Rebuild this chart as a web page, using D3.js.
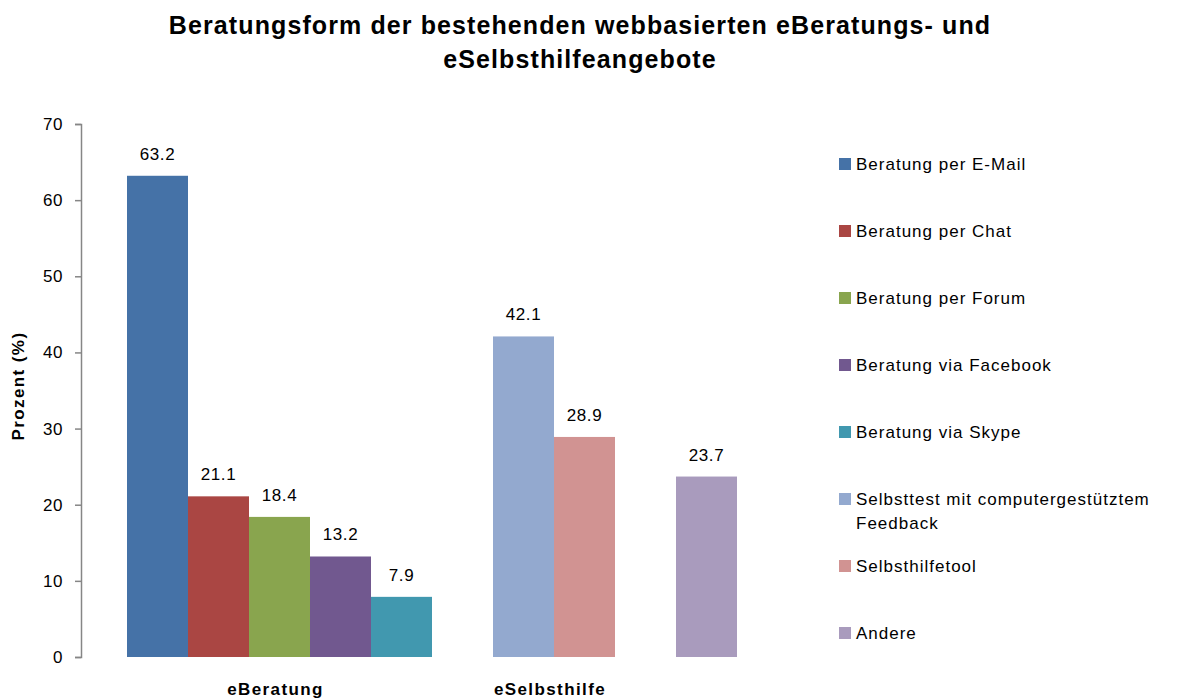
<!DOCTYPE html>
<html>
<head>
<meta charset="utf-8">
<script src="https://cdn.jsdelivr.net/npm/d3@7/dist/d3.min.js"></script>
<style>
  body { margin: 0; background: #fff; }
  text { font-family: "Liberation Sans", Arial, Helvetica, sans-serif; }
</style>
</head>
<body>
<div id="chart"></div>
<script>
////////////////////////////////////////////////
// data

var categories = ["eBeratung", "eSelbsthilfe", ""];

var seriesNames = [
    "Beratung per E-Mail",
    "Beratung per Chat",
    "Beratung per Forum",
    "Beratung via Facebook",
    "Beratung via Skype",
    "Selbsttest mit computergestütztem Feedback",
    "Selbsthilfetool",
    "Andere"
];

var seriesValues = [63.2, 21.1, 18.4, 13.2, 7.9, 42.1, 28.9, 23.7];

// which category each series sits in
var seriesCategory = [0, 0, 0, 0, 0, 1, 1, 2];

var seriesColors = ["#4572A7", "#AA4643", "#89A54E", "#71588F",
                    "#4198AF", "#93A9CF", "#D19392", "#A99BBD"];

var yTicks = [0, 10, 20, 30, 40, 50, 60, 70];

////////////////////////////////////////////////
// setup

var w = 1179, h = 698;

var svg = d3.select("#chart")
    .append("svg")
    .attr("width", w)
    .attr("height", h);

// one slot per bar, plus a spacer slot after each category
var slots = [];
categories.forEach(function(c, ci){
    seriesNames.forEach(function(s, si){
        if (seriesCategory[si] === ci) slots.push("s" + si);
    });
    if (ci < categories.length - 1) slots.push("gap" + ci);
});

var x = d3.scaleBand()
    .domain(slots)
    .range([127, 737])
    .padding(0);

var y = d3.scaleLinear()
    .domain([0, 70])
    .range([657, 124]);

////////////////////////////////////////////////
// title

svg.append("text")
    .attr("x", 580).attr("y", 34)
    .attr("text-anchor", "middle")
    .attr("font-size", "25px")
    .attr("font-weight", "bold")
    .attr("letter-spacing", "1.1px")
    .attr("fill", "#000")
    .text("Beratungsform der bestehenden webbasierten eBeratungs- und");

svg.append("text")
    .attr("x", 580).attr("y", 68)
    .attr("text-anchor", "middle")
    .attr("font-size", "25px")
    .attr("font-weight", "bold")
    .attr("letter-spacing", "1.1px")
    .attr("fill", "#000")
    .text("eSelbsthilfeangebote");

////////////////////////////////////////////////
// y axis

var yAxis = svg.append("g")
    .attr("transform", "translate(81,0)")
    .call(d3.axisLeft(y).tickValues(yTicks).tickSize(6).tickPadding(12).tickFormat(d3.format("d")));

yAxis.select(".domain").attr("stroke", "#868686").attr("stroke-width", 1.5);
yAxis.selectAll(".tick line").attr("stroke", "#868686").attr("stroke-width", 1.5);
yAxis.selectAll(".tick text")
    .attr("font-size", "17px")
    .attr("letter-spacing", "0.6px")
    .attr("fill", "#000")
    .attr("font-family", "Liberation Sans, Arial, sans-serif");

svg.append("text")
    .attr("transform", "translate(24,386) rotate(-90)")
    .attr("text-anchor", "middle")
    .attr("font-size", "17px")
    .attr("font-weight", "bold")
    .attr("letter-spacing", "1.4px")
    .attr("fill", "#000")
    .text("Prozent (%)");

////////////////////////////////////////////////
// bars

var barData = seriesNames.map(function(s, i){
    return { name: s, value: seriesValues[i], color: seriesColors[i], key: "s" + i };
});

svg.selectAll("rect.bar")
    .data(barData)
    .enter()
    .append("rect")
    .attr("class", "bar")
    .attr("x", function(d){ return x(d.key); })
    .attr("y", function(d){ return y(d.value); })
    .attr("width", x.bandwidth())
    .attr("height", function(d){ return y(0) - y(d.value); })
    .attr("fill", function(d){ return d.color; });

svg.selectAll("text.val")
    .data(barData)
    .enter()
    .append("text")
    .attr("class", "val")
    .attr("x", function(d){ return x(d.key) + x.bandwidth() / 2; })
    .attr("y", function(d){ return y(d.value) - 16; })
    .attr("text-anchor", "middle")
    .attr("font-size", "17px")
    .attr("letter-spacing", "0.6px")
    .attr("fill", "#000")
    .text(function(d){ return d.value.toFixed(1); });

////////////////////////////////////////////////
// category labels

categories.forEach(function(c, ci){
    if (!c) return;
    var keys = barData.filter(function(d, i){ return seriesCategory[i] === ci; })
        .map(function(d){ return d.key; });
    var x0 = x(keys[0]);
    var x1 = x(keys[keys.length - 1]) + x.bandwidth();
    svg.append("text")
        .attr("x", (x0 + x1) / 2 - 4)
        .attr("y", 695)
        .attr("text-anchor", "middle")
        .attr("font-size", "17px")
        .attr("font-weight", "bold")
        .attr("letter-spacing", "1.4px")
        .attr("fill", "#000")
        .text(c);
});

////////////////////////////////////////////////
// legend

var legendRows = [
    ["Beratung per E-Mail"],
    ["Beratung per Chat"],
    ["Beratung per Forum"],
    ["Beratung via Facebook"],
    ["Beratung via Skype"],
    ["Selbsttest mit computergestütztem", "Feedback"],
    ["Selbsthilfetool"],
    ["Andere"]
];

var legend = svg.selectAll("g.leg")
    .data(barData)
    .enter()
    .append("g")
    .attr("class", "leg")
    .attr("transform", function(d, i){ return "translate(839," + (164 + i * 67) + ")"; });

legend.append("rect")
    .attr("x", 0).attr("y", -6)
    .attr("width", 12).attr("height", 12)
    .attr("fill", function(d){ return d.color; });

legend.each(function(d, i){
    var t = d3.select(this).append("text")
        .attr("x", 17)
        .attr("y", 6)
        .attr("font-size", "17px")
        .attr("letter-spacing", "1px")
        .attr("fill", "#000");
    legendRows[i].forEach(function(line, li){
        t.append("tspan")
            .attr("x", 17)
            .attr("dy", li === 0 ? 0 : 24)
            .text(line);
    });
});
</script>
</body>
</html>
